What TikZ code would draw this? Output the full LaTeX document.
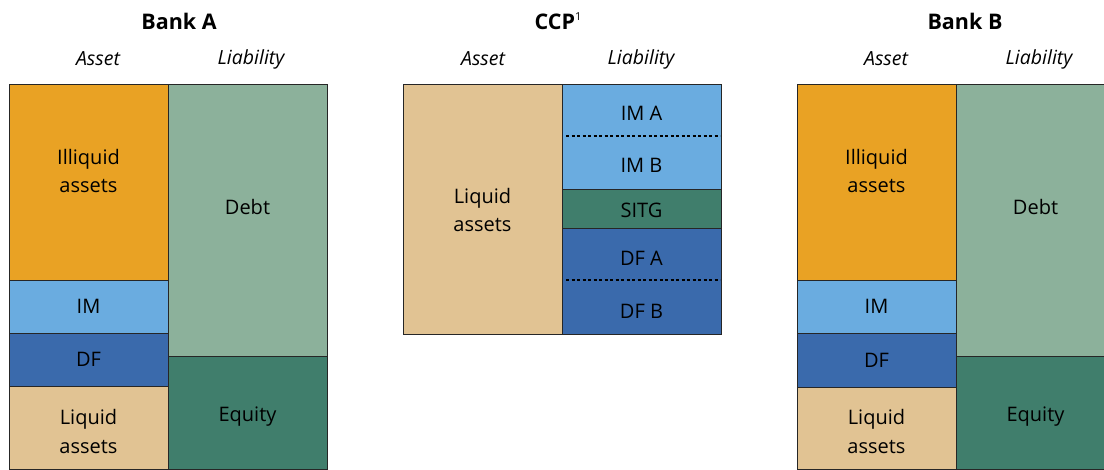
\documentclass[tikz,border=0pt]{standalone}
\usepackage{fontspec}
\setmainfont{Open Sans}
\definecolor{orng}{HTML}{E9A224}
\definecolor{imblue}{HTML}{6AACE0}
\definecolor{dfblue}{HTML}{3A6AAC}
\definecolor{tan}{HTML}{E1C393}
\definecolor{debtgreen}{HTML}{8CB19B}
\definecolor{eqgreen}{HTML}{407E6C}
\tikzset{
  blk/.style={draw=black!85, line width=0.8pt},
  lbl/.style={font=\fontsize{20}{28.5}\selectfont, align=center, inner sep=0pt, text=black},
  hdr/.style={font=\itshape\fontsize{19.5}{24}\selectfont, inner sep=0pt},
  ttl/.style={font=\bfseries\fontsize{21.5}{26}\selectfont, inner sep=0pt},
  sep/.style={draw=black, line width=1.2pt, dash pattern=on 3pt off 2.5pt}
}
\begin{document}
\begin{tikzpicture}[x=1pt,y=-1pt]
\useasboundingbox (0,0) rectangle (1104,470);
\clip (0,0) rectangle (1104,470);

% ---------- Bank A ----------
\node[ttl] (tA) at (179,21) {Bank A};
\node[hdr] (hAa) at (98,59) {Asset};
\node[hdr] (hAl) at (251,59) {Liability};
\draw[blk, fill=orng] (9,84) rectangle (168,280);
\draw[blk, fill=imblue] (9,280) rectangle (168,333);
\draw[blk, fill=dfblue] (9,333) rectangle (168,386);
\draw[blk, fill=tan] (9,386) rectangle (168,469.5);
\draw[blk, fill=debtgreen] (168,84) rectangle (327,356);
\draw[blk, fill=eqgreen] (168,356) rectangle (327,469.5);
\node[lbl] (aIll) at (88.5,171) {Illiquid\\assets};
\node[lbl] (aIM) at (88.5,306.5) {IM};
\node[lbl] (aDF) at (88.5,359.5) {DF};
\node[lbl] (aLiq) at (88.5,431.5) {Liquid\\assets};
\node[lbl] (aDebt) at (247.5,207) {Debt};
\node[lbl] (aEq) at (247.5,417) {Equity};

% ---------- CCP ----------
\node[ttl] (tC) at (558,21) {CCP\raisebox{9pt}{\mdseries\fontsize{11}{11}\selectfont 1}};
\node[hdr] (hCa) at (483,59) {Asset};
\node[hdr] (hCl) at (641,59) {Liability};
\draw[blk, fill=tan] (403,84) rectangle (562,334);
\draw[blk, fill=imblue] (562,84) rectangle (721,189);
\draw[blk, fill=eqgreen] (562,189) rectangle (721,228);
\draw[blk, fill=dfblue] (562,228) rectangle (721,334);
\coordinate (d1l) at (566,136);
\coordinate (d1r) at (720,136);
\coordinate (d2l) at (566,280);
\coordinate (d2r) at (720,280);
\draw[sep] (d1l) -- (d1r);
\draw[sep] (d2l) -- (d2r);
\node[lbl] (cLiq) at (482.5,210) {Liquid\\assets};
\node[lbl] (cIMA) at (641.5,113) {IM A};
\node[lbl] (cIMB) at (641.5,165) {IM B};
\node[lbl] (cSITG) at (641.5,210) {SITG};
\node[lbl] (cDFA) at (641.5,258) {DF A};
\node[lbl] (cDFB) at (641.5,311) {DF B};

% ---------- Bank B ----------
\node[ttl] (tB) at (965,21) {Bank B};
\node[hdr] (hBa) at (886,59) {Asset};
\node[hdr] (hBl) at (1039,59) {Liability};
\draw[blk, fill=orng] (797,84) rectangle (956,280);
\draw[blk, fill=imblue] (797,280) rectangle (956,333);
\draw[blk, fill=dfblue] (797,333) rectangle (956,387);
\draw[blk, fill=tan] (797,387) rectangle (956,469.5);
\draw[blk, fill=debtgreen] (956,84) rectangle (1115,356);
\draw[blk, fill=eqgreen] (956,356) rectangle (1115,469.5);
\node[lbl] (bIll) at (876.5,171) {Illiquid\\assets};
\node[lbl] (bIM) at (876.5,306.5) {IM};
\node[lbl] (bDF) at (876.5,360) {DF};
\node[lbl] (bLiq) at (876.5,431.5) {Liquid\\assets};
\node[lbl] (bDebt) at (1035.5,207) {Debt};
\node[lbl] (bEq) at (1035.5,417) {Equity};
\end{tikzpicture}
\end{document}
